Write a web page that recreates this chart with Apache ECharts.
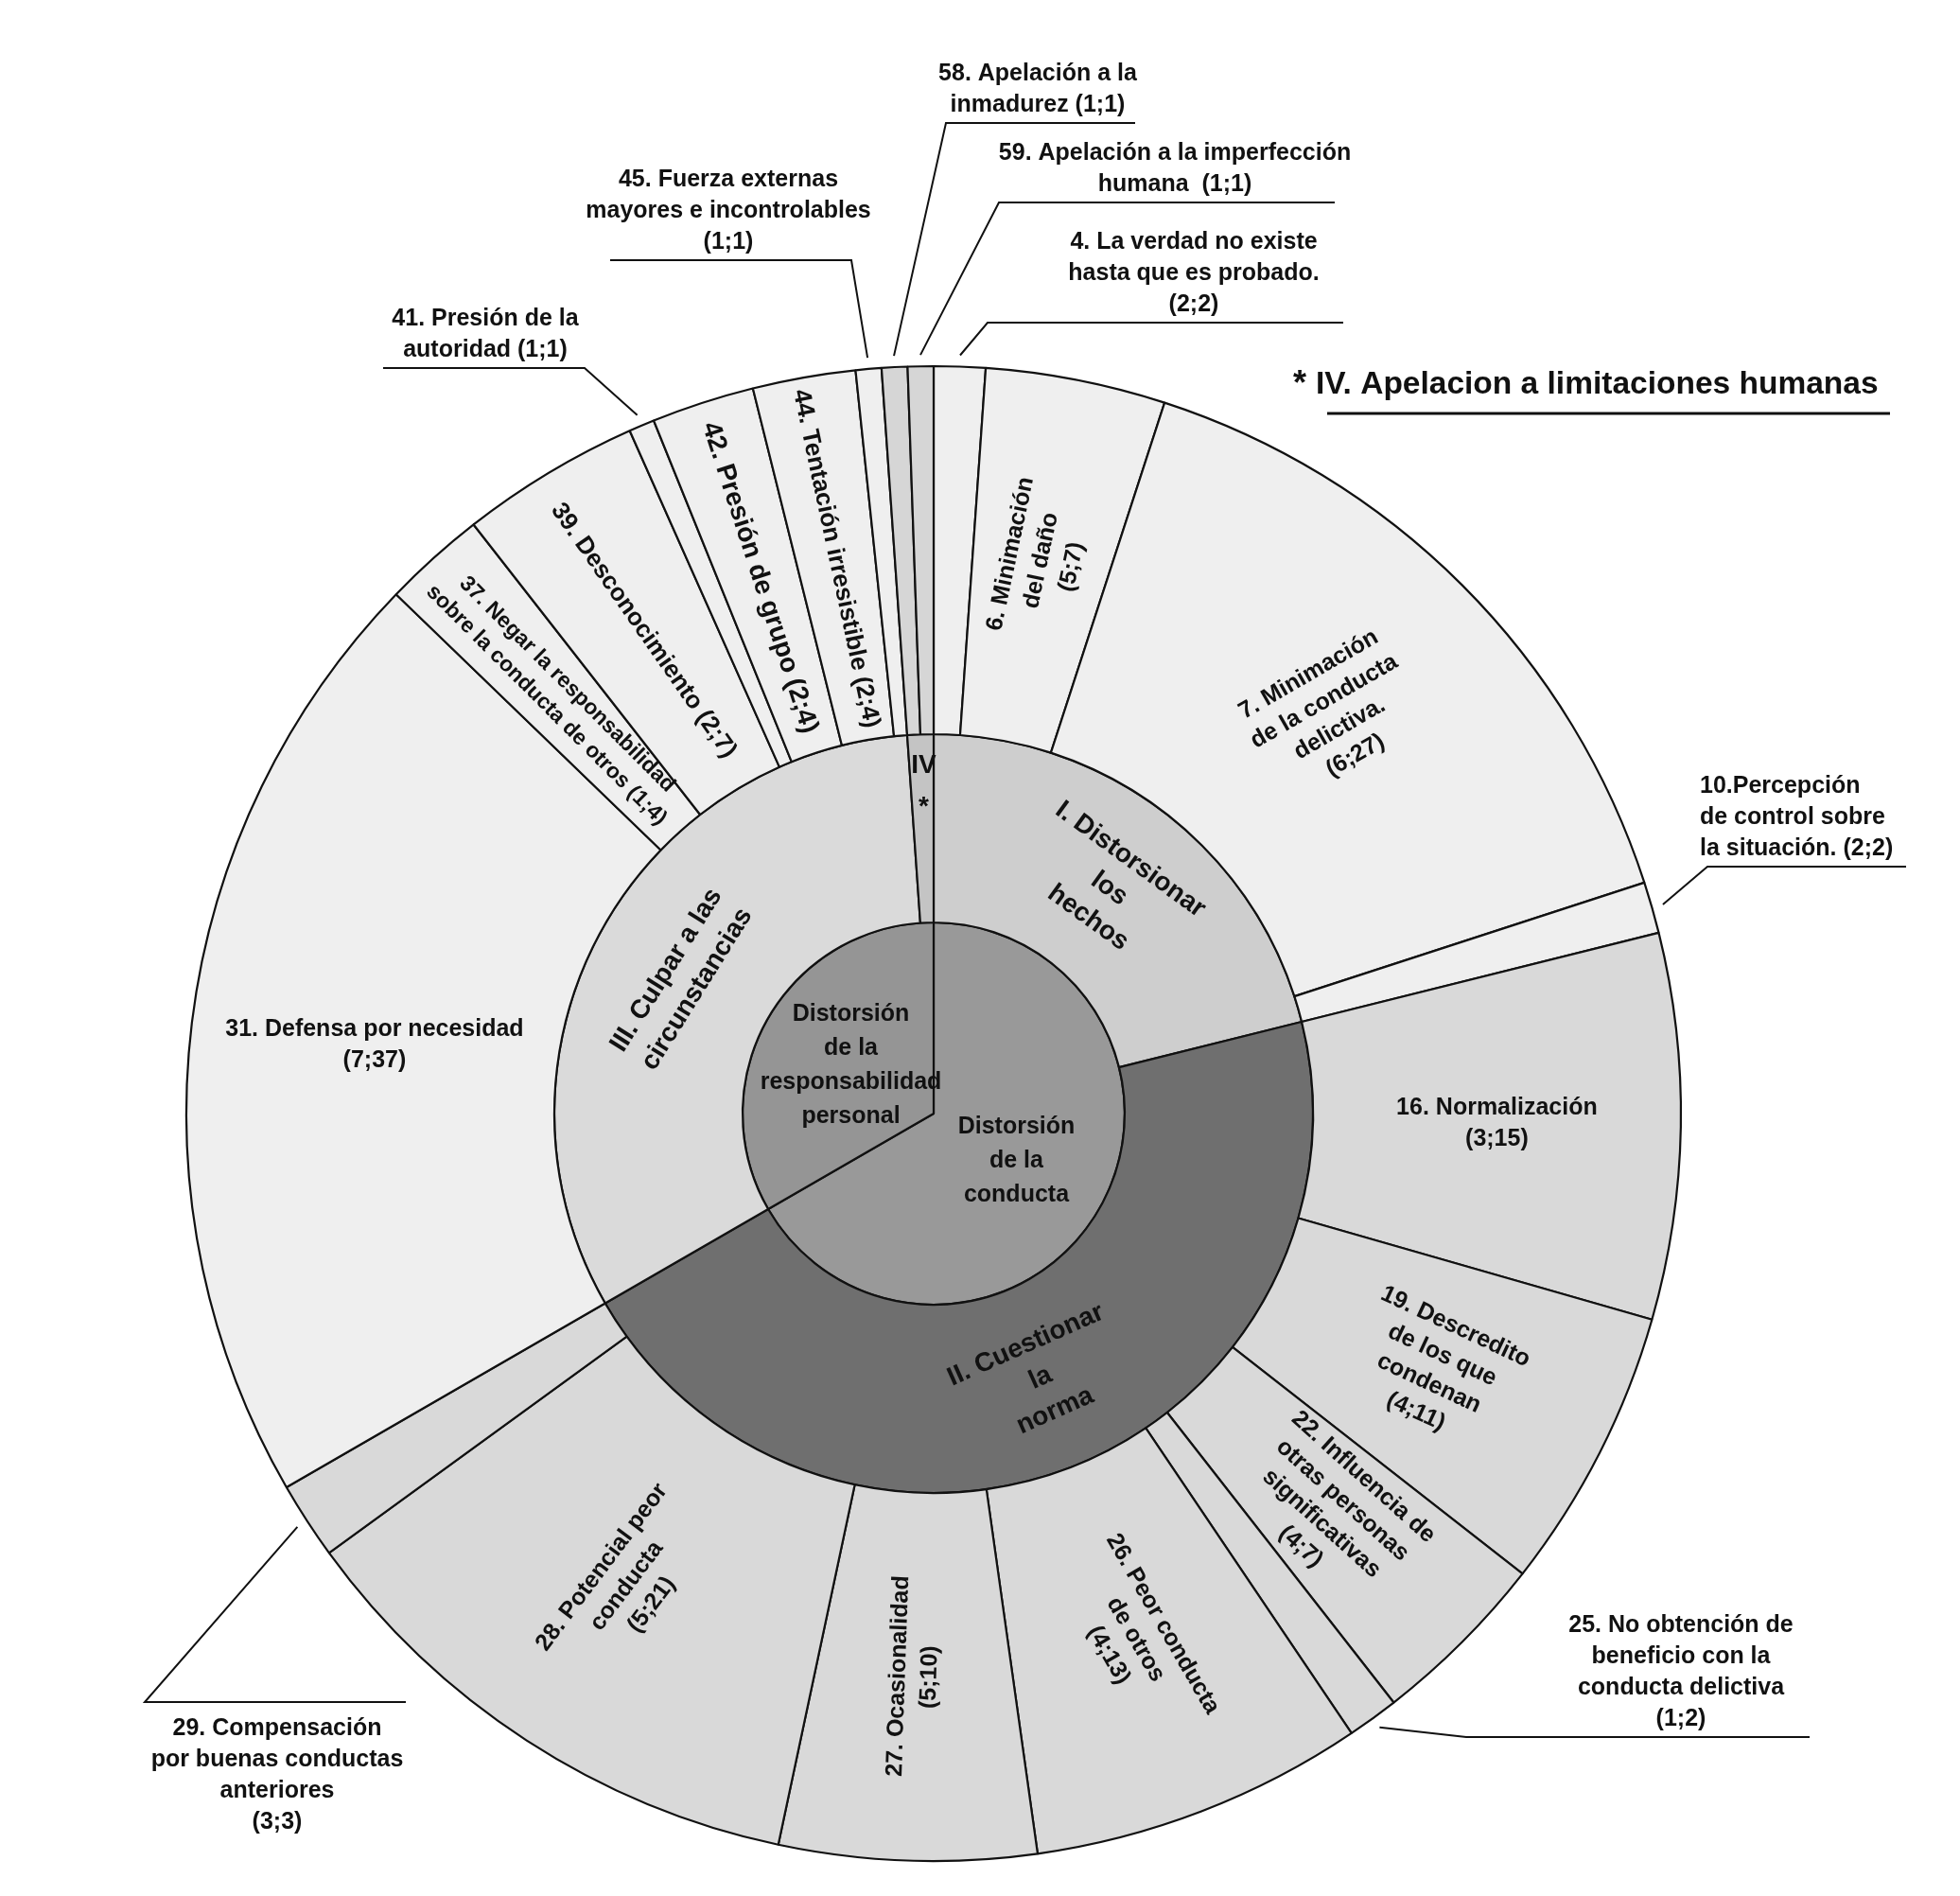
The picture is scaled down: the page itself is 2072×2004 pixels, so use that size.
<!DOCTYPE html>
<html><head><meta charset="utf-8">
<script src="https://cdn.jsdelivr.net/npm/echarts@6/dist/echarts.min.js"></script>
<style>html,body{margin:0;padding:0;background:#fff}#c{width:2072px;height:2004px}</style>
</head><body><div id="c"></div>
<script>
// ---------- DATA ----------
const centerNames = ['Distorsión\nde la\nconducta', 'Distorsión\nde la\nresponsabilidad\npersonal'];
const groupNames = ['I. Distorsionar\nlos\nhechos', 'II. Cuestionar\nla\nnorma', 'III. Culpar a las\ncircunstancias', 'IV\n*'];
const groupCenter = [0, 0, 1, 1];
const leafNames = [
  '4. La verdad no existe\nhasta que es probado.\n(2;2)',
  '6. Minimación\ndel daño\n(5;7)',
  '7. Minimación\nde la conducta\ndelictiva.\n(6;27)',
  '10.Percepción\nde control sobre\nla situación. (2;2)',
  '16. Normalización\n(3;15)',
  '19. Descredito\nde los que\ncondenan\n(4;11)',
  '22. Influencia de\notras personas\nsignificativas\n(4;7)',
  '25. No obtención de\nbeneficio con la\nconducta delictiva\n(1;2)',
  '26. Peor conducta\nde otros\n(4;13)',
  '27. Ocasionalidad\n(5;10)',
  '28. Potencial peor\nconducta\n(5;21)',
  '29. Compensación\npor buenas conductas\nanteriores\n(3;3)',
  '31. Defensa por necesidad\n(7;37)',
  '37. Negar la responsabilidad\nsobre la conducta de otros (1;4)',
  '39. Desconocimiento (2;7)',
  '41. Presión de la\nautoridad (1;1)',
  '42. Presión de grupo (2;4)',
  '44. Tentación irresistible (2;4)',
  '45. Fuerza externas\nmayores e incontrolables\n(1;1)',
  '58. Apelación a la\ninmadurez (1;1)',
  '59. Apelación a la imperfección\nhumana  (1;1)'
];
const leafValues = [2, 7, 27, 2, 15, 11, 7, 2, 13, 10, 21, 3, 37, 4, 7, 1, 4, 4, 1, 1, 1];
const leafGroup  = [0, 0, 0, 0, 1, 1, 1, 1, 1, 1, 1, 1, 2, 2, 2, 2, 2, 2, 2, 3, 3];
const titleText = 'IV. Apelacion a limitaciones humanas';

// ---------- STYLE / LAYOUT ----------
const FONT = '"Liberation Sans Narrow","Arial Narrow","Liberation Sans",sans-serif';
const CX = 987, CY = 1177, R0 = 202, R1 = 401, R2 = 790;
const INK = '#111111';
const centerColors = ['#999999', '#959595'];
const groupColors = ['#cecece', '#6f6f6f', '#dadada', '#c4c4c4'];
const leafGroupColors = ['#efefef', '#d9d9d9', '#efefef', '#d6d6d6'];
const groupRot = [-36, 24, 58, 0];
const leafRot = [0, 78, 30, 0, 0, -25, -42, 0, -60, 88, 53, 0, 0, -45, -55, 0, -72, -78, 0, 0, 0];
const leafFont = [25, 25, 25, 25, 25, 25, 25, 25, 25, 25, 25, 25, 25, 23, 26, 25, 28, 26, 25, 25, 25];
// external labels: text anchor x, underline y and x-range, which end the leader joins
const extLayout = {
  0:  { tx: 1262, uy: 341,  ux: [1044, 1420], elbow: 'left' },
  3:  { tx: 1797, uy: 916,  ux: [1805, 2015], elbow: 'left', align: 'left' },
  7:  { tx: 1777, uy: 1836, ux: [1550, 1913], elbow: 'left' },
  11: { tx: 293,  uy: 1799, ux: [153, 429],   elbow: 'left', below: true },
  15: { tx: 513,  uy: 389,  ux: [405, 618],   elbow: 'right' },
  18: { tx: 770,  uy: 275,  ux: [645, 900],   elbow: 'right' },
  19: { tx: 1097, uy: 130,  ux: [1000, 1200], elbow: 'left' },
  20: { tx: 1242, uy: 214,  ux: [1056, 1411], elbow: 'left' }
};
const GAP = 12;

// ---------- BUILD ----------
const textBase = { color: INK, fontFamily: FONT, fontWeight: 'bold' };
const sbData = centerNames.map((cn, ci) => ({
  name: cn,
  itemStyle: { color: centerColors[ci] },
  label: Object.assign({}, textBase, { rotate: 0, fontSize: 25, lineHeight: 36 }),
  children: groupNames.map((gn, gi) => ({ gn, gi })).filter(o => groupCenter[o.gi] === ci).map(o => ({
    name: o.gn,
    itemStyle: { color: groupColors[o.gi] },
    label: Object.assign({}, textBase, o.gi === 3
      ? { rotate: 0, fontSize: 28, lineHeight: 44, formatter: '{b}\n\n' }
      : { rotate: groupRot[o.gi], fontSize: 28, lineHeight: 38 }),
    children: leafNames.map((ln, li) => ({ ln, li })).filter(q => leafGroup[q.li] === o.gi).map(q => ({
      name: q.ln,
      value: leafValues[q.li],
      itemStyle: { color: leafGroupColors[o.gi] },
      label: Object.assign({}, textBase, {
        show: !extLayout[q.li], rotate: leafRot[q.li], fontSize: leafFont[q.li], lineHeight: leafFont[q.li] + 8
      })
    }))
  }))
}));

const pieData = leafNames.map((ln, li) => {
  const e = extLayout[li];
  return {
    name: ln, value: leafValues[li],
    label: e ? Object.assign({}, textBase, { show: true, position: 'outside', fontSize: 25, lineHeight: 33, formatter: '{b}' }) : { show: false },
    labelLine: e ? { show: true, length: 20, length2: 20, lineStyle: { color: INK, width: 2 } } : { show: false }
  };
});

const chart = echarts.init(document.getElementById('c'), null, { renderer: 'canvas' });
chart.setOption({
  backgroundColor: '#ffffff',
  animation: false,
  title: {
    text: '{s|*}  {t|' + titleText + '}',
    left: 1362, top: 384,
    textStyle: {
      rich: {
        s: { fontFamily: FONT, fontWeight: 'bold', fontSize: 36, color: INK },
        t: { fontFamily: FONT, fontWeight: 'bold', fontSize: 33.5, color: INK }
      }
    }
  },
  graphic: [{
    type: 'line', shape: { x1: 1403, y1: 437, x2: 1998, y2: 437 },
    style: { stroke: INK, lineWidth: 3 }, silent: true
  }],
  series: [{
    type: 'sunburst',
    center: [CX, CY],
    radius: [0, R2],
    startAngle: 90,
    clockwise: true,
    sort: null,
    nodeClick: false,
    emphasis: { disabled: true },
    itemStyle: { borderColor: INK, borderWidth: 2.2 },
    label: Object.assign({}, textBase, { position: 'inside', align: 'center' }),
    levels: [
      {},
      { r0: 0, r: R0 },
      { r0: R0, r: R1 },
      { r0: R1, r: R2 }
    ],
    data: sbData
  }, {
    type: 'pie',
    center: [CX, CY],
    radius: [R1, R2],
    startAngle: 90,
    clockwise: true,
    silent: true,
    avoidLabelOverlap: false,
    z: 10,
    itemStyle: { color: 'rgba(0,0,0,0)', borderWidth: 0 },
    emphasis: { disabled: true },
    data: pieData,
    labelLayout: function (p) {
      const e = extLayout[p.dataIndex];
      if (!e || !p.labelLinePoints) return {};
      const a = p.labelLinePoints[0];
      const dx = a[0] - CX, dy = a[1] - CY, d = Math.sqrt(dx * dx + dy * dy);
      const start = [CX + dx * (d + GAP) / d, CY + dy * (d + GAP) / d];
      const ex = e.elbow === 'left' ? e.ux[0] : e.ux[1];
      const fx = e.elbow === 'left' ? e.ux[1] : e.ux[0];
      return {
        x: e.tx,
        y: e.below ? e.uy + 12 : e.uy - 2,
        align: e.align || 'center',
        verticalAlign: e.below ? 'top' : 'bottom',
        labelLinePoints: [start, [ex, e.uy], [fx, e.uy]]
      };
    }
  }]
});
</script></body></html>
